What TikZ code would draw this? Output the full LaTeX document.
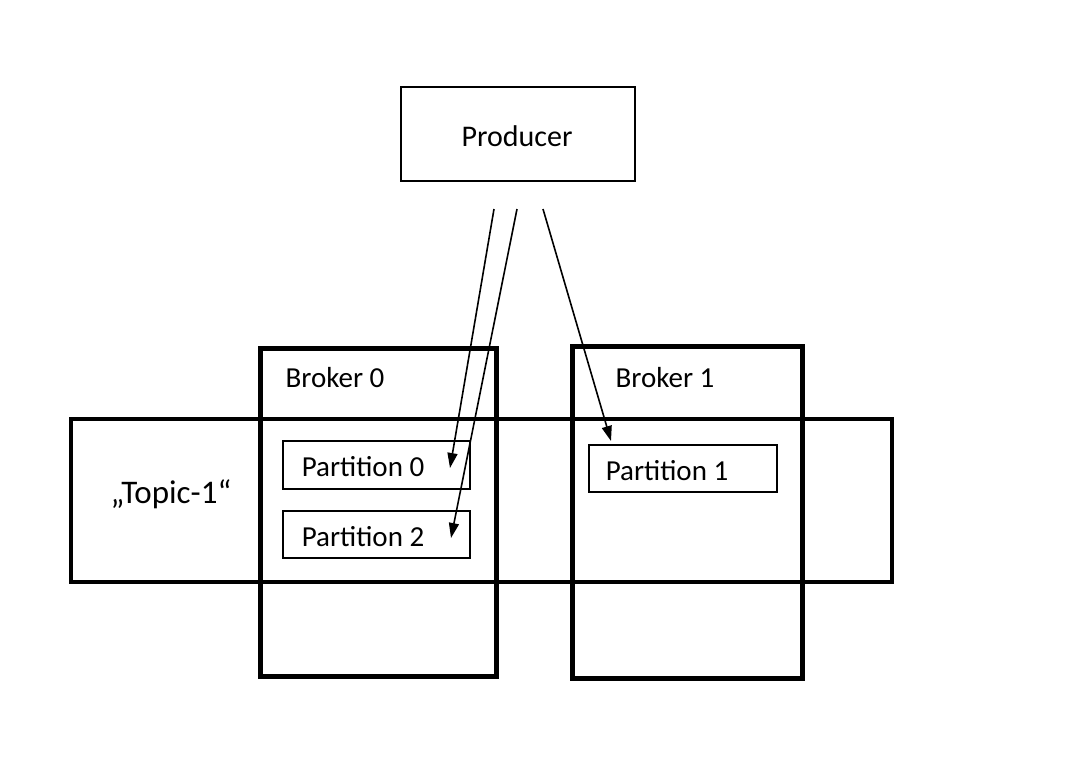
\documentclass[tikz,border=0pt]{standalone}
\usepackage{fontspec}
\setmainfont{Carlito}
\usetikzlibrary{arrows.meta}
\begin{document}
\begin{tikzpicture}[x=1pt,y=-1pt,
  thinbox/.style={draw, line width=1.8pt},
  bigbox/.style={draw, line width=4.6pt},
  topicbox/.style={draw, line width=3.6pt},
  lbl/.style={font=\fontsize{29}{34}\selectfont, inner sep=0pt},
  conn/.style={line width=1.6pt, -{Triangle[length=15pt,width=10pt]}}]
\useasboundingbox[fill=white] (0,0) rectangle (1082,766);
% Topic and brokers
\node[topicbox, minimum width=821pt, minimum height=163pt, anchor=north west] (topic) at (69,417) {};
\node[bigbox, minimum width=236pt, minimum height=328pt, anchor=north west] (b0) at (258,346) {};
\node[bigbox, minimum width=230pt, minimum height=332pt, anchor=north west] (b1) at (570,344) {};
\node[lbl, font=\fontsize{33}{38}\selectfont] (t1) at (171,494) {„Topic-1“};
\node[lbl] (b0l) at (335,378) {Broker 0};
\node[lbl] (b1l) at (665,378) {Broker 1};
% Producer
\node[thinbox, minimum width=234pt, minimum height=94pt, anchor=north west] (prod) at (400,86) {};
\node[lbl, font=\fontsize{30}{35}\selectfont] (prodl) at (517,136) {Producer};
% Partitions
\node[thinbox, minimum width=187pt, minimum height=48pt, anchor=north west] (p0) at (282,440) {};
\node[thinbox, minimum width=187pt, minimum height=47pt, anchor=north west] (p2) at (282,510) {};
\node[thinbox, minimum width=188pt, minimum height=47pt, anchor=north west] (p1) at (588,444) {};
\node[lbl] (p0l) at (363,467) {Partition 0};
\node[lbl] (p2l) at (363,537) {Partition 2};
\node[lbl] (p1l) at (667,471) {Partition 1};
% Arrows
\coordinate (s0) at (494,209);
\coordinate (s2) at (517,209);
\coordinate (s1) at (543,209);
\coordinate (e0) at (450,468);
\coordinate (e2) at (451,538);
\coordinate (e1) at (611,441);
\draw[conn] (s0) -- (e0);
\draw[conn] (s2) -- (e2);
\draw[conn] (s1) -- (e1);
\end{tikzpicture}
\end{document}
